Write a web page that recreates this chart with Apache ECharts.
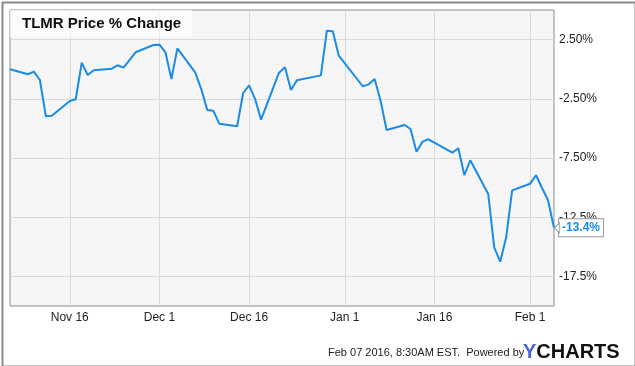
<!DOCTYPE html>
<html>
<head>
<meta charset="utf-8">
<script src="https://cdn.jsdelivr.net/npm/echarts@6/dist/echarts.min.js"></script>
<style>
  html, body { margin: 0; padding: 0; background: #fff; }
  #chart { width: 635px; height: 366px; }
</style>
</head>
<body>
<div id="chart"></div>
<script>
// 交易日
var dates = [
  '2015-11-06','2015-11-09','2015-11-10','2015-11-11','2015-11-12','2015-11-13',
  '2015-11-16','2015-11-17','2015-11-18','2015-11-19','2015-11-20',
  '2015-11-23','2015-11-24','2015-11-25','2015-11-27','2015-11-30',
  '2015-12-01','2015-12-02','2015-12-03','2015-12-04',
  '2015-12-07','2015-12-08','2015-12-09','2015-12-10','2015-12-11',
  '2015-12-14','2015-12-15','2015-12-16','2015-12-17','2015-12-18',
  '2015-12-21','2015-12-22','2015-12-23','2015-12-24',
  '2015-12-28','2015-12-29','2015-12-30','2015-12-31',
  '2016-01-04','2016-01-05','2016-01-06','2016-01-07','2016-01-08',
  '2016-01-11','2016-01-12','2016-01-13','2016-01-14','2016-01-15',
  '2016-01-19','2016-01-20','2016-01-21','2016-01-22',
  '2016-01-25','2016-01-26','2016-01-27','2016-01-28','2016-01-29',
  '2016-02-01','2016-02-02','2016-02-03','2016-02-04','2016-02-05'
];
// 涨跌幅 %
var changes = [
  0, -0.43, -0.21, -0.91, -3.98, -3.93,
  -2.69, -2.54, 0.55, -0.49, -0.09,
  0.04, 0.33, 0.13, 1.43, 2.04,
  2.07, 1.43, -0.83, 1.76,
  -0.29, -1.70, -3.45, -3.50, -4.60,
  -4.82, -2.01, -1.36, -2.52, -4.26,
  -0.29, 0.16, -1.76, -0.94,
  -0.52, 3.25, 3.20, 1.14,
  -1.44, -1.28, -0.83, -2.69, -5.14,
  -4.71, -5.05, -6.97, -6.12, -5.92,
  -7.05, -6.68, -8.94, -7.69,
  -10.54, -15.04, -16.26, -14.2, -10.23,
  -9.67, -8.96, -10.03, -11.07, -13.4
];
// x 轴刻度
var xTickDates = ['2015-11-16', '2015-12-01', '2015-12-16', '2016-01-01', '2016-01-16', '2016-02-01'];
var xTickLabels = ['Nov 16', 'Dec 1', 'Dec 16', 'Jan 1', 'Jan 16', 'Feb 1'];
// y 轴刻度
var yTickValues = [2.5, -2.5, -7.5, -12.5, -17.5];
var yTickLabels = ['2.50%', '-2.50%', '-7.50%', '-12.5%', '-17.5%'];
var lastLabel = '-13.4%';

// 转成从 11/6 起的天数
var DAY = 86400000;
var t0 = Date.UTC(2015, 10, 6);
function toDay(s) {
  var p = s.split('-');
  return Math.round((Date.UTC(+p[0], +p[1] - 1, +p[2]) - t0) / DAY);
}

var seriesData = dates.map(function (d, i) { return [toDay(d), changes[i]]; });
var xTicks = xTickDates.map(toDay);

var chart = echarts.init(document.getElementById('chart'));
var font = 'Arial, "Liberation Sans", sans-serif';

var option = {
  animation: false,
  textStyle: { fontFamily: font },
  title: {
    text: 'TLMR Price % Change',
    left: 10, top: 10,
    backgroundColor: 'rgba(255,255,255,0.65)',
    padding: [6, 11, 6, 12],
    textStyle: { fontSize: 15, fontWeight: 'bold', color: '#111', fontFamily: font }
  },
  grid: {
    left: 10, top: 10, right: 81, bottom: 60,
    show: true, backgroundColor: '#f6f6f6', borderColor: '#8c8c8c', borderWidth: 1
  },
  xAxis: {
    type: 'value',
    min: toDay('2015-11-06'),
    max: toDay('2016-02-05'),
    axisLine: { show: false },
    axisTick: { show: false, customValues: xTicks },
    splitLine: { show: true, lineStyle: { color: '#d9d9d9', width: 1 } },
    axisLabel: {
      customValues: xTicks,
      margin: 6,
      fontSize: 12, color: '#222', fontFamily: font,
      formatter: function (v) {
        var i = xTicks.indexOf(v);
        return i >= 0 ? xTickLabels[i] : '';
      }
    }
  },
  yAxis: {
    type: 'value',
    position: 'right',
    min: -20, max: 5,
    axisLine: { show: false },
    axisTick: { show: false, customValues: yTickValues },
    splitLine: { show: true, lineStyle: { color: '#d9d9d9', width: 1 } },
    axisLabel: {
      customValues: yTickValues,
      margin: 5,
      fontSize: 12, color: '#222', fontFamily: font,
      formatter: function (v) {
        var i = yTickValues.indexOf(v);
        return i >= 0 ? yTickLabels[i] : '';
      }
    }
  },
  series: [{
    type: 'line',
    data: seriesData,
    symbol: 'none',
    lineStyle: { color: '#1a8be6', width: 2 },
    endLabel: {
      show: true,
      formatter: lastLabel,
      distance: 5,
      color: '#1a8be6', fontWeight: 'bold', fontSize: 12, fontFamily: font,
      backgroundColor: '#fff', borderColor: '#999', borderWidth: 1,
      padding: [3, 3, 2, 3]
    },
    markPoint: {
      silent: true,
      symbol: 'path://M0,5 L6,0 L6,10 Z',
      symbolSize: [5, 10],
      symbolOffset: [3, 0],
      itemStyle: { color: '#fff', borderColor: '#999', borderWidth: 1 },
      label: { show: false },
      data: [{ coord: seriesData[seriesData.length - 1] }]
    }
  }],
  graphic: [
    {
      type: 'rect', left: 0, top: 0,
      shape: { width: 633, height: 364 },
      style: { fill: 'none', stroke: '#8a8a8a', lineWidth: 2 },
      silent: true
    },
    {
      type: 'text', left: 328, top: 347,
      style: { text: 'Feb 07 2016, 8:30AM EST.  Powered by', fontSize: 11, fill: '#222', fontFamily: font }
    },
    {
      type: 'text', left: 523, top: 342,
      style: {
        text: '{y|Y}{c|CHARTS}',
        rich: {
          y: { fontSize: 20, fontWeight: 900, fill: '#4a63d8', fontFamily: font },
          c: { fontSize: 20, fontWeight: 900, fill: '#111', fontFamily: font }
        }
      }
    }
  ]
};

chart.setOption(option);
</script>
</body>
</html>
